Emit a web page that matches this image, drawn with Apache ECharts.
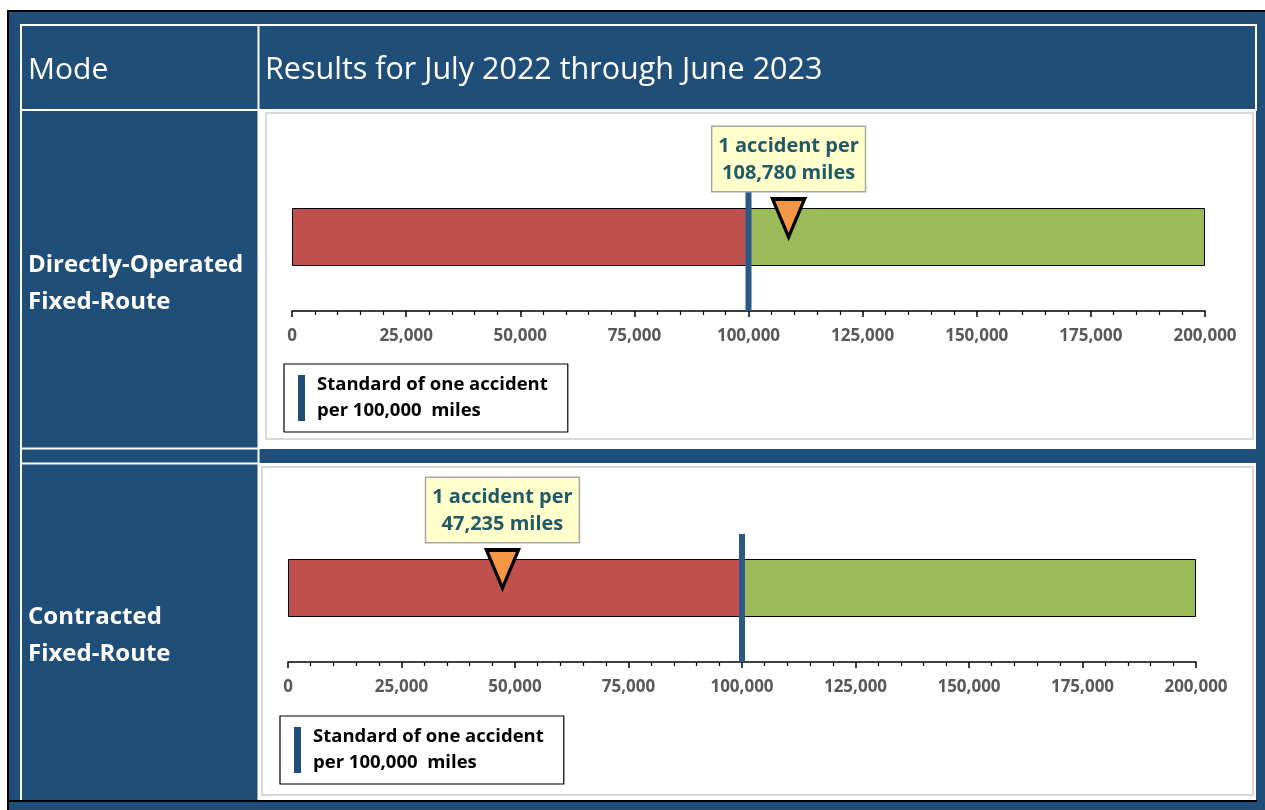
<!DOCTYPE html>
<html>
<head>
<meta charset="utf-8">
<title>Miles per accident by mode</title>
<script src="https://cdn.jsdelivr.net/npm/echarts@6/dist/echarts.min.js"></script>
<style>
  html, body { margin: 0; padding: 0; background: #ffffff; }
  #chart { width: 1265px; height: 810px; }
</style>
</head>
<body>
<div id="chart"></div>
<script>
// ---- data ----
const headerLabels = ['Mode', 'Results for July 2022 through June 2023'];
const modes = ['Directly-Operated\nFixed-Route', 'Contracted\nFixed-Route'];
const milesPerAccident = [108780, 47235];     // actual result per mode
const standardMiles = [100000, 100000];       // target: one accident per 100,000 miles
const belowStandardBand = [100000, 100000];   // red band width (0 -> standard)
const aboveStandardBand = [100000, 100000];   // green band width (standard -> 200,000)
const axisMin = 0;
const axisMax = 200000;
const axisStep = 25000;
const standardName = 'Standard of one accident\nper 100,000  miles';

// ---- styling ----
const FONT = '"Open Sans", Lato, sans-serif';
const NAVY = '#1F4E79';
const STD_BLUE = '#2B5886';
const RED = '#C0504D';
const GREEN = '#9BBB59';
const ORANGE = '#F79646';

// plot areas for the two rows (pixel layout)
const plotBoxes = [
  { left: 292, width: 913, top: 208, height: 58, legendLeft: 284, legendTop: 364 },
  { left: 288, width: 908, top: 559, height: 58, legendLeft: 280, legendTop: 716 }
];
const AXIS_DROP = 45;   // distance from bar bottom to the axis line
const LINE_RISE = 25;   // standard line sticks out above the bar

const fmt = v => Number(v).toLocaleString('en-US');

const chart = echarts.init(document.getElementById('chart'), null, { renderer: 'canvas' });

const grid = [], xAxis = [], yAxis = [], series = [], legend = [];

plotBoxes.forEach((b, i) => {
  grid.push({ left: b.left, width: b.width, top: b.top, height: b.height, containLabel: false });
  xAxis.push({
    type: 'value', gridIndex: i, min: axisMin, max: axisMax, interval: axisStep,
    position: 'bottom', offset: AXIS_DROP,
    axisLine: { show: true, lineStyle: { color: '#000', width: 1.5 } },
    axisTick: { show: true, length: 6, lineStyle: { color: '#000', width: 1.5 } },
    minorTick: { show: true, splitNumber: 5, length: 4, lineStyle: { color: '#000', width: 1.2 } },
    splitLine: { show: false }, minorSplitLine: { show: false },
    axisLabel: {
      show: true, margin: 17, color: '#595959', fontFamily: FONT, fontWeight: 'bold', fontSize: 17,
      showMinLabel: true, showMaxLabel: true, formatter: v => fmt(v)
    }
  });
  yAxis.push({ type: 'category', gridIndex: i, data: [modes[i]], show: false });

  series.push({
    type: 'bar', name: 'Below standard', xAxisIndex: i, yAxisIndex: i, stack: 'band' + i,
    barWidth: '100%', silent: true, data: [belowStandardBand[i]],
    itemStyle: { color: RED, borderColor: '#000', borderWidth: 1 }, z: 2
  });
  series.push({
    type: 'bar', name: 'Above standard', xAxisIndex: i, yAxisIndex: i, stack: 'band' + i,
    barWidth: '100%', silent: true, data: [aboveStandardBand[i]],
    itemStyle: { color: GREEN, borderColor: '#000', borderWidth: 1 }, z: 2
  });
  // vertical marker for the standard, from above the bar down to the axis line
  series.push({
    type: 'custom', name: standardName, xAxisIndex: i, yAxisIndex: i, clip: false, silent: true,
    data: [[standardMiles[i], 0]],
    encode: { x: 0, y: 1 },
    itemStyle: { color: STD_BLUE },
    renderItem: (params, api) => {
      const p = api.coord([api.value(0), 0]);
      const band = api.size([0, 1])[1];
      return {
        type: 'rect',
        shape: { x: p[0] - 3, y: p[1] - band / 2 - LINE_RISE, width: 6, height: band + LINE_RISE + AXIS_DROP },
        style: { fill: STD_BLUE }
      };
    },
    z: 3
  });
  // downward triangle marking the actual result, with its callout
  series.push({
    type: 'scatter', name: 'Result', xAxisIndex: i, yAxisIndex: i, clip: false, silent: true,
    data: [[milesPerAccident[i], 0]],
    symbol: 'path://M0,0L36,0L18,42Z',
    symbolSize: [32, 38], symbolOffset: [0, -19],
    itemStyle: { color: ORANGE, borderColor: '#000', borderWidth: 3.5, opacity: 1 },
    label: {
      show: true, position: 'top', distance: 6,
      formatter: p => '1 accident per\n' + fmt(p.value[0]) + ' miles',
      fontFamily: FONT, fontWeight: 'bold', fontSize: 20, lineHeight: 27, color: '#215967',
      backgroundColor: '#FFFFCC', borderColor: '#A6A6A6', borderWidth: 1.5,
      padding: [6, 6, 4, 6], align: 'center'
    },
    z: 5
  });

  legend.push({
    show: true, data: [standardName], left: b.legendLeft, top: b.legendTop,
    orient: 'vertical', selectedMode: false, icon: 'rect', itemWidth: 7, itemHeight: 46,
    backgroundColor: '#ffffff', borderColor: '#000', borderWidth: 1.2, borderRadius: 0,
    padding: [8, 20, 8, 14],
    itemStyle: { color: NAVY },
    textStyle: {
      fontFamily: FONT, fontWeight: 'bold', fontSize: 18.5, lineHeight: 26, color: '#000',
      padding: [0, 0, 0, 7]
    }
  });
});

// ---- table frame drawn behind the charts ----
const graphic = [
  // dark blue table body with black top/left edges
  { type: 'rect', shape: { x: 7, y: 10, width: 1258, height: 800 }, style: { fill: NAVY }, z: -10 },
  { type: 'rect', shape: { x: 7, y: 10, width: 1258, height: 2 }, style: { fill: '#000' }, z: -9 },
  { type: 'rect', shape: { x: 7, y: 10, width: 2, height: 800 }, style: { fill: '#000' }, z: -9 },
  // white cells holding the charts
  { type: 'rect', shape: { x: 259, y: 111, width: 997, height: 338 }, style: { fill: '#fff' }, z: -8 },
  { type: 'rect', shape: { x: 259, y: 463, width: 997, height: 337 }, style: { fill: '#fff' }, z: -8 },
  // chart-area outlines
  { type: 'rect', shape: { x: 266, y: 113, width: 987, height: 326 }, style: { fill: '#fff', stroke: '#D9D9D9', lineWidth: 2 }, z: -7 },
  { type: 'rect', shape: { x: 262, y: 467, width: 991, height: 328 }, style: { fill: '#fff', stroke: '#D9D9D9', lineWidth: 2 }, z: -7 },
  // white cell borders
  { type: 'rect', shape: { x: 21, y: 25, width: 1235, height: 85 }, style: { fill: null, stroke: '#fff', lineWidth: 2 }, z: -6 },
  { type: 'line', shape: { x1: 21, y1: 25, x2: 21, y2: 801 }, style: { stroke: '#fff', lineWidth: 2 }, z: -6 },
  { type: 'line', shape: { x1: 258.5, y1: 25, x2: 258.5, y2: 801 }, style: { stroke: '#fff', lineWidth: 2 }, z: -6 },
  { type: 'line', shape: { x1: 21, y1: 448.5, x2: 259, y2: 448.5 }, style: { stroke: '#fff', lineWidth: 2 }, z: -6 },
  { type: 'line', shape: { x1: 21, y1: 463.5, x2: 259, y2: 463.5 }, style: { stroke: '#fff', lineWidth: 2 }, z: -6 },
  { type: 'rect', shape: { x: 8, y: 800, width: 1249, height: 2 }, style: { fill: '#000' }, z: -5 },
  // header texts
  { type: 'text', style: { text: headerLabels[0], x: 28, y: 70, fill: '#fff', font: '30px ' + FONT, verticalAlign: 'middle' }, z: -4 },
  { type: 'text', style: { text: headerLabels[1], x: 265, y: 70, fill: '#fff', font: '30.5px ' + FONT, verticalAlign: 'middle' }, z: -4 },
  // row labels
  { type: 'text', style: { text: modes[0], x: 28, y: 284, fill: '#fff', font: 'bold 24px ' + FONT, lineHeight: 37, verticalAlign: 'middle' }, z: -4 },
  { type: 'text', style: { text: modes[1], x: 28, y: 636, fill: '#fff', font: 'bold 24px ' + FONT, lineHeight: 37, verticalAlign: 'middle' }, z: -4 }
];

chart.setOption({
  animation: false,
  backgroundColor: '#ffffff',
  graphic: graphic,
  grid: grid,
  xAxis: xAxis,
  yAxis: yAxis,
  legend: legend,
  series: series
});
</script>
</body>
</html>
